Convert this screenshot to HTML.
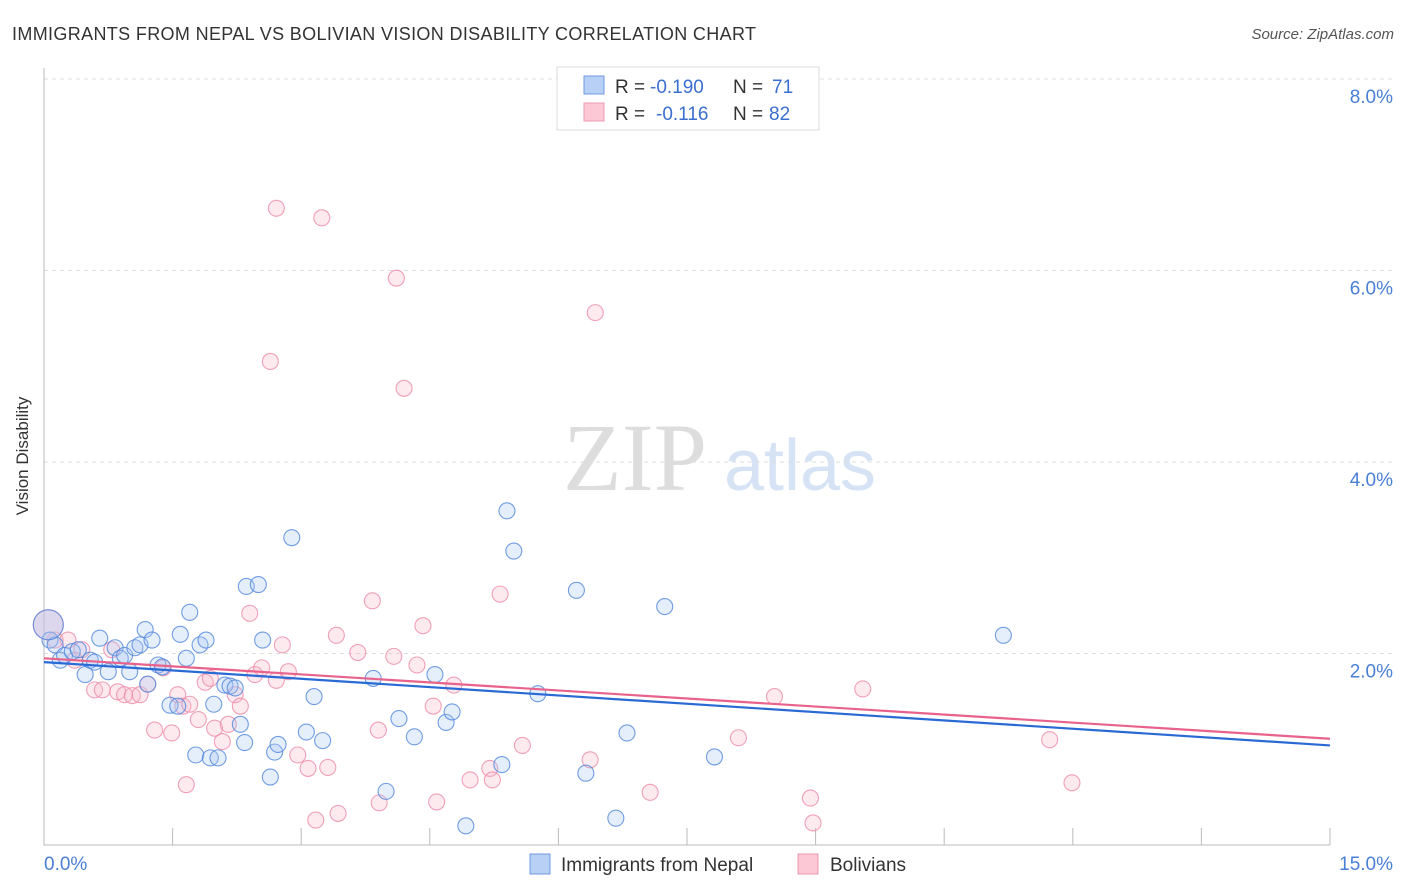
<!DOCTYPE html>
<html><head><meta charset="utf-8"><style>
body{margin:0;background:#fff;font-family:"Liberation Sans",sans-serif;}
svg{display:block}
</style></head><body>
<svg id="c" width="1406" height="892">
<text x="12" y="40" font-size="18" fill="#333" textLength="744">IMMIGRANTS FROM NEPAL VS BOLIVIAN VISION DISABILITY CORRELATION CHART</text>
<text x="1394" y="39" font-size="15" fill="#555" font-style="italic" text-anchor="end">Source: ZipAtlas.com</text>
<text x="28" y="456" font-size="17" fill="#333" text-anchor="middle" transform="rotate(-90 28 456)">Vision Disability</text>
<g><text x="635" y="490" font-size="96" fill="#ddd" font-family="Liberation Serif,serif" text-anchor="middle">ZIP</text><text x="800" y="490" font-size="72" fill="#d6e3f5" text-anchor="middle">atlas</text></g>
<g id="grid"></g><g id="axes"></g><g id="pts"></g><g id="trend"></g>
<g>
<rect x="557" y="67" width="262" height="63" fill="#fff" stroke="#ddd"/>
<rect x="584" y="76" width="20" height="18" fill="#b8d0f5" stroke="#6c9ae0"/>
<rect x="584" y="103" width="20" height="18" fill="#fcc8d6" stroke="#ee9ab3"/>
<text x="615" y="93" font-size="19" fill="#333">R =</text>
<text x="650" y="93" font-size="19" fill="#3a6fd0">-0.190</text>
<text x="733" y="93" font-size="19" fill="#333">N =</text>
<text x="772" y="93" font-size="19" fill="#3a6fd0">71</text>
<text x="615" y="120" font-size="19" fill="#333">R =</text>
<text x="656" y="120" font-size="19" fill="#3a6fd0">-0.116</text>
<text x="733" y="120" font-size="19" fill="#333">N =</text>
<text x="769" y="120" font-size="19" fill="#3a6fd0">82</text>
</g>
<g>
<rect x="530" y="854" width="20" height="20" fill="#b8d0f5" stroke="#6c9ae0"/>
<text x="561" y="871" font-size="19" fill="#333">Immigrants from Nepal</text>
<rect x="798" y="854" width="20" height="20" fill="#fcc8d6" stroke="#ee9ab3"/>
<text x="830" y="871" font-size="19" fill="#333">Bolivians</text>
</g>
</svg>
<script>
const yTicks=[2,4,6,8];
const xTickLabels=["0.0%","15.0%"];
const nepalX=[0.07,0.13,0.19,0.24,0.33,0.40,0.48,0.54,0.59,0.65,0.75,0.83,0.89,0.94,1.00,1.06,1.12,1.18,1.21,1.26,1.33,1.38,1.47,1.56,1.59,1.66,1.70,1.77,1.82,1.89,1.94,1.98,2.03,2.11,2.17,2.23,2.29,2.34,2.36,2.50,2.55,2.64,2.69,2.73,2.89,3.06,3.15,3.25,3.84,3.99,4.14,4.32,4.56,4.69,4.76,4.92,5.34,5.40,5.48,5.76,6.21,6.32,6.67,6.80,7.24,7.82,11.19,0.05];
const nepalY=[2.14,2.09,1.93,1.98,2.02,2.04,1.78,1.93,1.91,2.16,1.81,2.06,1.95,1.98,1.81,2.06,2.09,2.25,1.68,2.14,1.88,1.86,1.46,1.45,2.20,1.95,2.43,0.94,2.09,2.14,0.91,1.47,0.91,1.67,1.66,1.64,1.26,1.07,2.70,2.72,2.14,0.71,0.97,1.05,3.21,1.18,1.55,1.09,1.74,0.56,1.32,1.13,1.78,1.28,1.39,0.20,0.84,3.49,3.07,1.58,2.66,0.75,0.28,1.17,2.49,0.92,2.19,2.3];
const bolX=[0.13,0.28,0.36,0.44,0.59,0.68,0.79,0.86,0.94,1.03,1.12,1.21,1.29,1.39,1.49,1.56,1.62,1.66,1.70,1.80,1.88,1.94,1.99,2.08,2.15,2.23,2.29,2.40,2.46,2.54,2.64,2.71,2.71,2.78,2.85,2.96,3.08,3.17,3.24,3.31,3.41,3.43,3.66,3.83,3.90,3.91,4.08,4.11,4.20,4.35,4.42,4.54,4.58,4.78,4.97,5.20,5.23,5.32,5.58,6.37,6.43,7.07,8.10,8.52,8.94,8.97,9.55,11.73,11.99,0.05];
const bolY=[2.14,2.14,1.93,2.04,1.62,1.62,2.04,1.60,1.57,1.56,1.57,1.68,1.20,1.85,1.17,1.57,1.45,0.63,1.47,1.31,1.70,1.74,1.22,1.08,1.26,1.57,1.45,2.42,1.78,1.85,5.05,6.65,1.72,2.09,1.81,0.94,0.80,0.26,6.55,0.81,2.19,0.33,2.01,2.55,1.20,0.44,1.97,5.92,4.77,1.88,2.29,1.45,0.45,1.67,0.68,0.80,0.68,2.62,1.04,0.89,5.56,0.55,1.12,1.55,0.49,0.23,1.63,1.10,0.65,2.3];
const nepalTrend=[1.91,1.04];
const bolTrend=[1.95,1.11];
const xRange=[0,15];
const NS="http://www.w3.org/2000/svg";
const X=v=>44+(v-xRange[0])/(xRange[1]-xRange[0])*1286;
const Y=v=>845-v*95.75;
function mk(t,a,p){const e=document.createElementNS(NS,t);for(const k in a)e.setAttribute(k,a[k]);p.appendChild(e);return e;}
const grid=document.getElementById('grid'),axes=document.getElementById('axes');
yTicks.forEach(t=>{
 const l=mk('line',{x1:44,x2:1392,y1:Y(t),y2:Y(t),stroke:'#ddd','stroke-dasharray':'4,4'},grid);
 
 
 const tx=mk('text',{x:1393,y:Y(t)+24,'font-size':19,fill:'#4a7fd6','text-anchor':'end'},axes);
 tx.textContent=t.toFixed(1)+'%';
 
 
});
const ax=mk('path',{d:'M44 68V845H1330',stroke:'#bbb',fill:'none'},axes);


for(let i=0;i<=10;i++){const v=i*1.5;const t=mk('line',{x1:X(v),x2:X(v),y1:828,y2:845,stroke:'#bbb'},axes);
 
 }
[[xRange[0],44,'start'],[xRange[1],1393,'end']].forEach((d,i)=>{const t=mk('text',{x:d[1],y:870,'font-size':19,fill:'#4a7fd6','text-anchor':d[2]},axes);t.textContent=xTickLabels[i];
 
 });
const pts=document.getElementById('pts');
function series(xs,ys,fill,stroke,name){xs.forEach((x,i)=>{const big=i===xs.length-1;const c=mk('circle',{cx:X(x),cy:Y(ys[i]),r:big?15:8,fill:fill,'fill-opacity':big?0.4:0.3,stroke:stroke,'stroke-width':1.1,'stroke-opacity':0.8},pts);
 
 });}
series(bolX,bolY,'#f9b9cb','#ec8aa8','bolivians-point');
series(nepalX,nepalY,'#a9c6f2','#4f86dc','nepal-point');
const tr=document.getElementById('trend');
const t1=mk('line',{x1:X(0),x2:X(15),y1:Y(bolTrend[0]),y2:Y(bolTrend[1]),stroke:'#e8628c','stroke-width':2.2},tr);


const t2=mk('line',{x1:X(0),x2:X(15),y1:Y(nepalTrend[0]),y2:Y(nepalTrend[1]),stroke:'#2a6ad4','stroke-width':2.2},tr);


</script>
</body></html>
